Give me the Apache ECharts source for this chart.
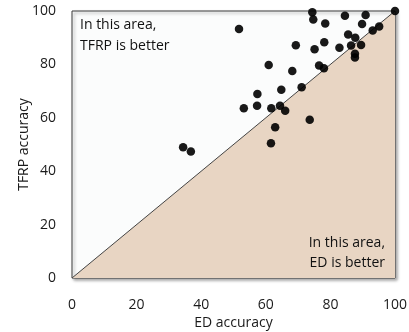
<!DOCTYPE html>
<html>
<head>
<meta charset="utf-8">
<script src="https://cdn.jsdelivr.net/npm/echarts@6/dist/echarts.min.js"></script>
<style>
  html, body { margin: 0; padding: 0; background: #ffffff; }
  #chart { width: 409px; height: 332px; }
</style>
</head>
<body>
<div id="chart"></div>
<script>
// Per-dataset accuracy (%) for the two methods
var edAccuracy = [34.4, 36.8, 51.7, 74.4, 74.7, 78.4, 84.5, 90.9, 100, 89.8, 95.1, 93.1,
  85.5, 87.7, 69.3, 78.1, 75.1, 82.8, 86.4, 89.5, 87.6, 87.6, 60.9, 68.2, 76.5, 78.0,
  64.8, 71.1, 57.4, 53.2, 57.3, 61.7, 64.4, 66.0, 73.6, 62.9, 61.6];
var tfrpAccuracy = [49.0, 47.4, 93.3, 99.5, 96.8, 95.3, 98.2, 98.5, 100, 95.1, 94.2, 92.7,
  91.2, 90.0, 87.2, 88.3, 85.7, 86.2, 87.1, 87.3, 84.0, 82.6, 79.8, 77.5, 79.6, 78.6,
  70.5, 71.4, 68.9, 63.6, 64.5, 63.6, 64.5, 62.6, 59.3, 56.5, 50.5];

var xTicks = [0, 20, 40, 60, 80, 100];
var yTicks = [0, 20, 40, 60, 80, 100];
var diagonal = [[0, 0], [100, 100]];

var points = edAccuracy.map(function (x, i) { return [x, tfrpAccuracy[i]]; });

var font = '"Open Sans", "Liberation Sans", sans-serif';
var chart = echarts.init(document.getElementById('chart'));

chart.setOption({
  animation: false,
  backgroundColor: '#ffffff',
  grid: {
    left: 72, right: 14, top: 11, bottom: 54,
    outerBoundsMode: 'none',
    show: true,
    backgroundColor: '#fbfcfc',
    borderColor: '#3a3a3a',
    borderWidth: 1,
    shadowColor: 'rgba(0,0,0,0.35)',
    shadowBlur: 3,
    shadowOffsetX: 2,
    shadowOffsetY: 2
  },
  xAxis: {
    type: 'value', min: xTicks[0], max: xTicks[xTicks.length - 1], interval: 20,
    name: 'ED accuracy', nameLocation: 'middle', nameGap: 38, nameMoveOverlap: false,
    nameTextStyle: { fontFamily: font, fontSize: 14, color: '#1a1a1a' },
    axisLine: { show: false },
    axisTick: { show: false },
    splitLine: { show: false },
    axisLabel: { fontFamily: font, fontSize: 14, color: '#1a1a1a', margin: 20 }
  },
  yAxis: {
    type: 'value', min: yTicks[0], max: yTicks[yTicks.length - 1], interval: 20,
    name: 'TFRP accuracy', nameLocation: 'middle', nameGap: 41, nameMoveOverlap: false,
    nameTextStyle: { fontFamily: font, fontSize: 14, color: '#1a1a1a' },
    axisLine: { show: false },
    axisTick: { show: false },
    splitLine: { show: false },
    axisLabel: { fontFamily: font, fontSize: 14, color: '#1a1a1a', margin: 16 }
  },
  series: [
    {
      type: 'line',
      data: diagonal,
      symbol: 'none',
      lineStyle: { color: '#444444', width: 1 },
      areaStyle: { color: '#e8d5c3', opacity: 1 },
      z: 1,
      silent: true
    },
    {
      type: 'scatter',
      data: points,
      symbolSize: 8.5,
      itemStyle: { color: '#000000', opacity: 0.9 },
      z: 3
    }
  ],
  graphic: [
    {
      type: 'text', x: 80, y: 15, z: 10,
      style: { text: 'In this area,\nTFRP is better', font: '14px ' + font, fill: '#111111', lineHeight: 21 }
    },
    {
      type: 'text', x: 385, y: 233, z: 10,
      style: { text: 'In this area,\nED is better', font: '14px ' + font, fill: '#111111', lineHeight: 20, align: 'right' }
    }
  ]
});
</script>
</body>
</html>
